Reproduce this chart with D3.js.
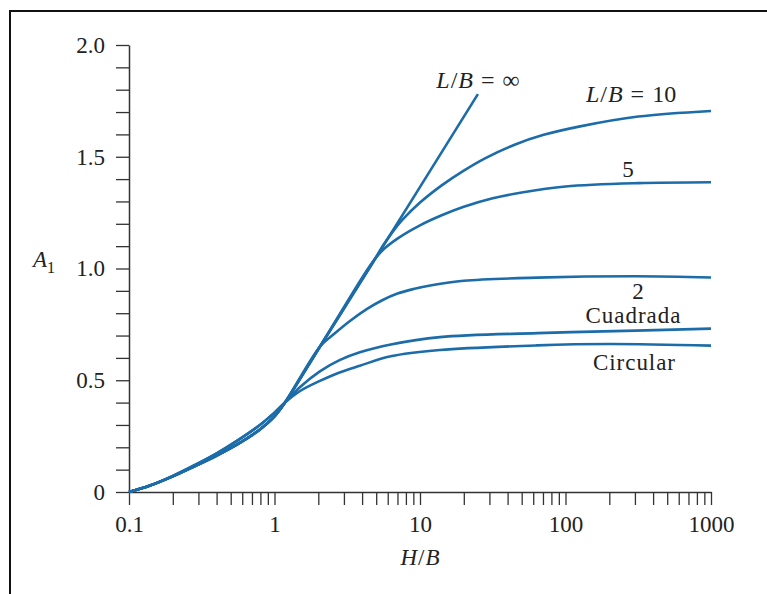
<!DOCTYPE html>
<html>
<head>
<meta charset="utf-8">
<script src="https://cdn.jsdelivr.net/npm/d3@7"></script>
<style>
  body { margin: 0; background: #fff; }
  text { font-family: "Liberation Serif", "Times New Roman", serif; fill: #222; }
</style>
</head>
<body>
<div id="chart"></div>
<script>
// values: [H/B, A1]
var lbInf = [[0.1,0],[0.141,0.03],[0.2,0.07],[0.282,0.115],[0.398,0.162],[0.562,0.215],[0.794,0.28],[1.0,0.338],[1.18,0.40],[2.05,0.65],[4.67,1.02],[25,1.78]];
var lb10 = [[0.1,0],[0.141,0.03],[0.2,0.07],[0.282,0.115],[0.398,0.162],[0.562,0.215],[0.794,0.28],[1.0,0.338],[1.18,0.40],[2.05,0.65],[4.67,1.02],[5.62,1.106],[6.5,1.165],[7.5,1.215],[10,1.295],[14.1,1.372],[20,1.438],[28.2,1.494],[44.7,1.554],[70.8,1.598],[126,1.636],[316,1.68],[1000,1.705]];
var lb5 = [[0.1,0],[0.141,0.03],[0.2,0.07],[0.282,0.115],[0.398,0.162],[0.562,0.215],[0.794,0.28],[1.0,0.338],[1.18,0.40],[2.05,0.65],[4.67,1.025],[5.62,1.086],[7.08,1.136],[10,1.193],[14.1,1.238],[20,1.276],[31.6,1.314],[50,1.34],[100,1.367],[316,1.382],[1000,1.386]];
var lb2 = [[0.1,0],[0.141,0.03],[0.2,0.07],[0.282,0.115],[0.398,0.162],[0.562,0.215],[0.794,0.28],[1.0,0.338],[1.18,0.40],[2.05,0.65],[2.6,0.71],[3.3,0.765],[4.3,0.818],[5.5,0.858],[7,0.888],[9,0.908],[12,0.925],[20,0.945],[64,0.959],[303,0.965],[1000,0.96]];
var cuadrada = [[0.1,0],[0.141,0.03],[0.2,0.072],[0.282,0.12],[0.398,0.172],[0.562,0.232],[0.794,0.30],[1.0,0.355],[1.18,0.40],[1.5,0.47],[2.05,0.54],[2.8,0.59],[3.86,0.625],[6.3,0.66],[13.7,0.693],[64,0.711],[303,0.722],[1000,0.731]];
var circular = [[0.1,0],[0.141,0.03],[0.2,0.072],[0.282,0.12],[0.398,0.172],[0.562,0.232],[0.794,0.30],[1.0,0.355],[1.18,0.40],[1.5,0.452],[2.05,0.497],[2.8,0.535],[3.86,0.565],[6.3,0.607],[13.7,0.635],[64,0.656],[200,0.662],[1000,0.655]];

var xMajor = [0.1, 1, 10, 100, 1000];
var xLabels = ["0.1", "1", "10", "100", "1000"];
var yMajor = [0, 0.5, 1.0, 1.5, 2.0];
var yLabels = ["0", "0.5", "1.0", "1.5", "2.0"];

var width = 767, height = 594;
var blue = "#1b6ca8";

var svg = d3.select('#chart').append('svg')
  .attr('width', width)
  .attr('height', height);

// frame (left and top edges visible)
svg.append('path')
  .attr('d', 'M10,' + height + 'V11H' + width)
  .style('fill', 'none')
  .style('stroke', '#111')
  .style('stroke-width', 2);

var xScale = d3.scaleLog()
  .domain([0.1, 1000])
  .range([129, 711]);

var yScale = d3.scaleLinear()
  .domain([0, 2])
  .range([492, 45]);

var xTicks = [];
xMajor.forEach(function(d, i) {
  if (i < xMajor.length - 1) {
    for (var k = 1; k < 10; k++) xTicks.push(+(d * k).toPrecision(3));
  } else xTicks.push(d);
});
var yTicks = d3.range(0, 21).map(function(d) { return d / 10; });

var xAxis = d3.axisBottom(xScale)
  .tickValues(xTicks)
  .tickSize(13)
  .tickSizeOuter(0)
  .tickPadding(11)
  .tickFormat(function(d) {
    var i = xMajor.indexOf(d);
    return i < 0 ? '' : xLabels[i];
  });

var yAxis = d3.axisLeft(yScale)
  .tickValues(yTicks)
  .tickSize(13)
  .tickSizeOuter(0)
  .tickPadding(11)
  .tickFormat(function(d) {
    var i = yMajor.findIndex(function(v) { return Math.abs(v - d) < 1e-9; });
    return i < 0 ? '' : yLabels[i];
  });

var xG = svg.append('g')
  .attr('transform', 'translate(0,' + yScale(0) + ')')
  .call(xAxis);
var yG = svg.append('g')
  .attr('transform', 'translate(' + xScale(0.1) + ',0)')
  .call(yAxis);

[xG, yG].forEach(function(g) {
  g.selectAll('path').style('stroke', '#333').style('stroke-width', 1.5);
  g.selectAll('line').style('stroke', '#333').style('stroke-width', 1.3);
  g.selectAll('text')
    .style('font-family', '"Liberation Serif", serif')
    .style('font-size', '23px')
    .style('fill', '#222');
});

var line = d3.line()
  .x(function(d) { return xScale(d[0]); })
  .y(function(d) { return yScale(d[1]); })
  .curve(d3.curveCatmullRom.alpha(0.5));

[lbInf, lb10, lb5, lb2, cuadrada, circular].forEach(function(s) {
  svg.append('path')
    .datum(s)
    .attr('d', line)
    .style('fill', 'none')
    .style('stroke', blue)
    .style('stroke-width', 2.6)
    .style('stroke-linecap', 'butt');
});

// axis titles
var hb = svg.append('text')
  .attr('x', 420).attr('y', 565)
  .attr('text-anchor', 'middle')
  .style('font-size', '23px');
hb.append('tspan').style('font-style', 'italic').text('H');
hb.append('tspan').attr('dx', 1).text('/');
hb.append('tspan').attr('dx', 1).style('font-style', 'italic').text('B');

var a1 = svg.append('text')
  .attr('x', 33).attr('y', 267)
  .style('font-size', '23px');
a1.append('tspan').style('font-style', 'italic').text('A');
a1.append('tspan').attr('dy', 6).style('font-size', '16px').text('1');

// curve labels
function lbLabel(x, y, val) {
  var t = svg.append('text')
    .attr('x', x).attr('y', y)
    .attr('text-anchor', 'middle')
    .style('font-size', '24px');
  t.append('tspan').style('font-style', 'italic').text('L');
  t.append('tspan').attr('dx', 1).text('/');
  t.append('tspan').attr('dx', 1).style('font-style', 'italic').text('B');
  t.append('tspan').attr('dx', 8).text('=');
  t.append('tspan').attr('dx', 8).text(val);
}
lbLabel(478, 88, '\u221e');
lbLabel(631, 102, '10');

var plain = [['5', 628, 177, 0], ['2', 638, 299, 0], ['Cuadrada', 633, 323, 95], ['Circular', 634, 370, 82]];
plain.forEach(function(p) {
  var t = svg.append('text')
    .attr('x', p[1]).attr('y', p[2])
    .attr('text-anchor', 'middle')
    .style('font-size', '23px')
    .text(p[0]);
  if (p[3]) t.attr('textLength', p[3]).attr('lengthAdjust', 'spacing');
});
</script>
</body>
</html>
